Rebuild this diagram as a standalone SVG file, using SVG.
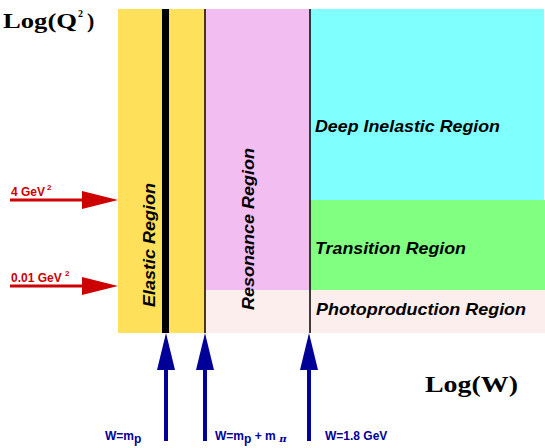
<svg xmlns="http://www.w3.org/2000/svg" width="545" height="448" viewBox="0 0 545 448">
<style>
.axis{font-family:"Liberation Serif",serif;font-weight:bold;fill:#000}
.reg{font-family:"Liberation Sans",Arial,sans-serif;font-weight:bold;font-style:italic;font-size:17px;fill:#000}
.red{font-family:"Liberation Sans",Arial,sans-serif;font-weight:bold;fill:#cc0000}
.blue{font-family:"Liberation Sans",Arial,sans-serif;font-weight:bold;fill:#000099}
.ra{stroke:#cc0000;stroke-width:3;fill:none}
.rh{fill:#cc0000}
.bh{fill:#000099}
</style>
<rect width="545" height="448" fill="#ffffff"/>
<g id="photoproduction">
<rect x="205" y="290" width="340" height="43" fill="#fdeeee"/>
<text class="reg" x="316" y="315" textLength="210" lengthAdjust="spacingAndGlyphs">Photoproduction Region</text>
</g>
<g id="elastic">
<rect x="118" y="9" width="87" height="324" fill="#ffe05a"/>
<rect x="162" y="9" width="7" height="324" fill="#000"/>
<text class="reg" transform="translate(155,307) rotate(-90)" textLength="124" lengthAdjust="spacingAndGlyphs">Elastic Region</text>
</g>
<g id="resonance">
<rect x="205" y="9" width="105" height="281" fill="#f2bef2"/>
<text class="reg" transform="translate(254,310) rotate(-90)" textLength="162" lengthAdjust="spacingAndGlyphs">Resonance Region</text>
</g>
<g id="deep-inelastic">
<rect x="310" y="9" width="234" height="191" fill="#80ffff"/>
<text class="reg" x="315" y="132" textLength="185" lengthAdjust="spacingAndGlyphs">Deep Inelastic Region</text>
</g>
<g id="transition">
<rect x="310" y="200" width="235" height="90" fill="#80ff80"/>
<text class="reg" x="315" y="254" textLength="151" lengthAdjust="spacingAndGlyphs">Transition Region</text>
</g>
<g id="boundaries">
<line x1="205" y1="9" x2="205" y2="333" stroke="#000" stroke-width="1.5"/>
<line x1="310" y1="9" x2="310" y2="333" stroke="#000" stroke-width="1.5"/>
</g>
<g id="axis-labels">
<text class="axis" x="3" y="28" font-size="22" textLength="74" lengthAdjust="spacingAndGlyphs">Log(Q</text>
<text class="axis" x="78" y="17" font-size="10">2</text>
<text class="axis" x="87" y="28" font-size="22">)</text>
<text class="axis" x="425" y="392" font-size="24" textLength="93" lengthAdjust="spacingAndGlyphs">Log(W)</text>
</g>
<g id="connectors">
<line class="ra" x1="10" y1="200" x2="83" y2="200"/>
<polygon class="rh" points="82,191 118,200 82,209"/>
<line class="ra" x1="10" y1="286" x2="83" y2="286"/>
<polygon class="rh" points="82,277 118,286 82,295"/>
<rect x="164" y="369" width="4" height="72" fill="#000099"/>
<polygon class="bh" points="157,370 166,333 175,370"/>
<rect x="203" y="369" width="4" height="72" fill="#000099"/>
<polygon class="bh" points="196,370 205,333 214,370"/>
<rect x="307" y="369" width="4" height="72" fill="#000099"/>
<polygon class="bh" points="300,370 309,333 318,370"/>
</g>
<g id="q-labels">
<text class="red" x="11" y="196" font-size="12">4 GeV</text>
<text class="red" x="47" y="190" font-size="8">2</text>
<text class="red" x="11" y="282" font-size="12">0.01 GeV</text>
<text class="red" x="65" y="276" font-size="8">2</text>
</g>
<g id="w-labels">
<text class="blue" x="105" y="440" font-size="12">W=m<tspan dy="3">p</tspan></text>
<text class="blue" x="215" y="440" font-size="12">W=m<tspan dy="3">p</tspan><tspan dy="-3"> + m</tspan><tspan dy="2" font-family="'DejaVu Serif',serif" font-style="italic" font-size="10"> π</tspan></text>
<text class="blue" x="325" y="440" font-size="12">W=1.8 GeV</text>
</g>
</svg>
